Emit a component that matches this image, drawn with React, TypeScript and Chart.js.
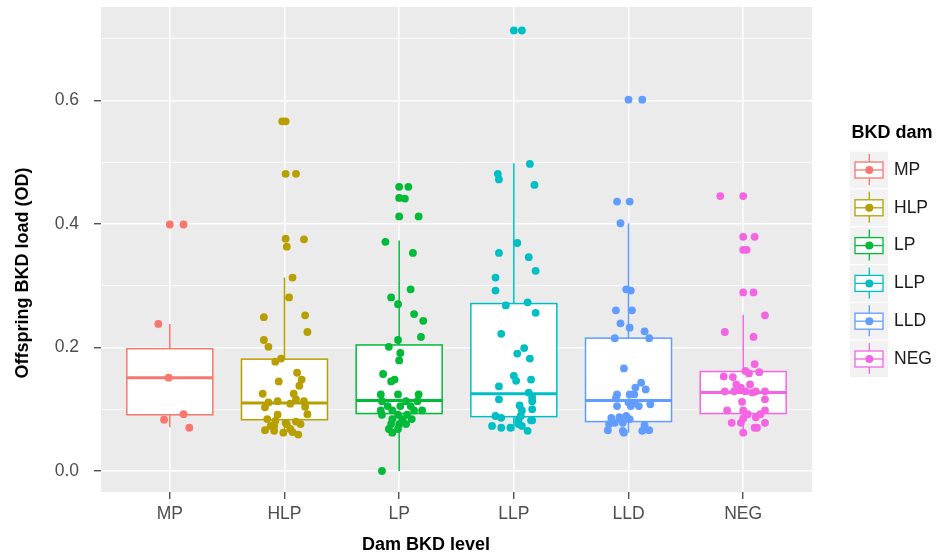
import React, { useEffect, useRef } from "react";
import { Chart, registerables } from "chart.js";
Chart.register(...registerables);

const categories = ["MP", "HLP", "LP", "LLP", "LLD", "NEG"];
const colors = ["#F8766D", "#B79F00", "#00BA38", "#00BFC4", "#619CFF", "#F564E3"];

const yTicks = [0, 0.1, 0.2, 0.3, 0.4, 0.5, 0.6, 0.7];
const yMajorTicks = [0, 0.2, 0.4, 0.6];
const yMajorLabels = ["0.0", "0.2", "0.4", "0.6"];

const boxQ1 = [0.091, 0.083, 0.093, 0.088, 0.080, 0.093];
const boxMedian = [0.151, 0.110, 0.114, 0.125, 0.114, 0.127];
const boxQ3 = [0.198, 0.181, 0.204, 0.271, 0.215, 0.161];
const whiskerLow = [0.071, 0.059, 0.0, 0.065, 0.062, 0.062];
const whiskerHigh = [0.238, 0.313, 0.373, 0.498, 0.401, 0.253];

const mpValues = [0.399, 0.399, 0.238, 0.151, 0.092, 0.083, 0.070];
const mpJitter = [0.0, 0.12, -0.10, -0.01, 0.12, -0.05, 0.17];

const hlpValues = [0.566, 0.566, 0.481, 0.481, 0.376, 0.375, 0.363, 0.313, 0.281, 0.249, 0.252, 0.225, 0.212, 0.201, 0.177, 0.182, 0.159, 0.148, 0.145, 0.138, 0.125, 0.125, 0.116, 0.113, 0.111, 0.109, 0.113, 0.103, 0.104, 0.092, 0.091, 0.084, 0.081, 0.078, 0.080, 0.076, 0.073, 0.076, 0.066, 0.065, 0.062, 0.063, 0.059, 0.073, 0.068];
const hlpJitter = [-0.02, 0.01, 0.01, 0.10, 0.01, 0.17, 0.02, 0.07, 0.04, -0.18, 0.18, 0.20, -0.18, -0.14, -0.08, -0.03, 0.11, 0.15, -0.05, 0.13, -0.19, 0.08, 0.10, -0.06, -0.14, 0.05, 0.17, -0.17, 0.18, 0.20, -0.06, -0.15, -0.08, 0.01, 0.10, 0.14, -0.12, 0.02, -0.17, -0.09, -0.01, 0.07, 0.12, -0.09, 0.05];

const lpValues = [0.460, 0.460, 0.442, 0.441, 0.412, 0.412, 0.371, 0.353, 0.294, 0.281, 0.270, 0.254, 0.243, 0.217, 0.212, 0.201, 0.191, 0.179, 0.157, 0.148, 0.145, 0.124, 0.124, 0.124, 0.113, 0.113, 0.113, 0.105, 0.105, 0.105, 0.098, 0.098, 0.098, 0.098, 0.091, 0.091, 0.091, 0.084, 0.084, 0.084, 0.076, 0.076, 0.076, 0.068, 0.068, 0.062, 0.0];
const lpJitter = [0.0, 0.08, 0.0, 0.05, 0.0, 0.17, -0.12, 0.12, 0.10, -0.07, -0.01, 0.13, 0.21, 0.19, -0.01, -0.09, 0.01, 0.0, -0.14, -0.04, -0.07, -0.16, -0.01, 0.17, -0.15, 0.06, 0.16, -0.10, 0.01, 0.10, -0.16, -0.06, 0.13, 0.20, -0.15, -0.01, 0.07, -0.06, 0.03, 0.11, -0.07, 0.0, 0.06, -0.09, -0.01, -0.06, -0.15];

const llpValues = [0.713, 0.713, 0.497, 0.481, 0.472, 0.463, 0.369, 0.353, 0.346, 0.324, 0.313, 0.292, 0.268, 0.273, 0.256, 0.222, 0.199, 0.190, 0.182, 0.154, 0.146, 0.148, 0.137, 0.127, 0.116, 0.119, 0.113, 0.106, 0.100, 0.098, 0.089, 0.086, 0.089, 0.082, 0.082, 0.073, 0.070, 0.070, 0.076, 0.073, 0.065, 0.082];
const llpJitter = [0.0, 0.07, 0.14, -0.14, -0.13, 0.18, 0.03, -0.13, 0.13, 0.19, -0.16, -0.16, -0.07, 0.12, 0.19, -0.11, 0.09, 0.03, 0.14, 0.0, 0.02, 0.15, -0.13, 0.13, -0.13, 0.16, 0.16, 0.05, 0.16, 0.07, -0.16, -0.11, 0.06, 0.04, 0.15, -0.19, -0.11, -0.03, 0.04, 0.07, 0.12, 0.16];

const lldValues = [0.601, 0.601, 0.436, 0.436, 0.401, 0.294, 0.292, 0.260, 0.260, 0.239, 0.232, 0.226, 0.215, 0.215, 0.166, 0.143, 0.135, 0.132, 0.124, 0.124, 0.124, 0.118, 0.111, 0.110, 0.105, 0.108, 0.105, 0.105, 0.086, 0.087, 0.089, 0.078, 0.078, 0.084, 0.076, 0.074, 0.066, 0.065, 0.066, 0.065, 0.062];
const lldJitter = [0.0, 0.12, -0.10, 0.01, -0.07, -0.02, 0.02, -0.11, 0.03, -0.07, 0.01, 0.14, -0.12, 0.18, -0.04, 0.11, 0.06, 0.15, -0.10, 0.01, 0.05, -0.11, 0.0, 0.05, 0.09, 0.19, -0.10, 0.02, -0.15, -0.08, -0.02, -0.12, -0.05, 0.01, -0.17, 0.14, 0.18, 0.12, -0.18, -0.05, -0.04];

const negValues = [0.445, 0.445, 0.379, 0.379, 0.358, 0.358, 0.289, 0.289, 0.252, 0.225, 0.217, 0.173, 0.162, 0.158, 0.160, 0.153, 0.152, 0.140, 0.140, 0.135, 0.129, 0.129, 0.129, 0.129, 0.129, 0.127, 0.131, 0.116, 0.112, 0.098, 0.098, 0.098, 0.092, 0.087, 0.092, 0.085, 0.078, 0.078, 0.078, 0.070, 0.070, 0.062];
const negJitter = [-0.20, 0.0, 0.0, 0.10, 0.0, 0.03, 0.0, 0.09, 0.19, -0.16, 0.09, 0.10, 0.02, 0.05, 0.14, -0.17, -0.09, -0.06, 0.06, -0.02, -0.16, -0.08, 0.02, 0.11, 0.19, 0.08, -0.05, 0.19, -0.01, -0.14, 0.0, 0.19, 0.04, 0.11, 0.15, 0.0, -0.02, -0.10, 0.19, 0.10, 0.12, 0.0];

const seriesValues = [mpValues, hlpValues, lpValues, llpValues, lldValues, negValues];
const seriesJitter = [mpJitter, hlpJitter, lpJitter, llpJitter, lldJitter, negJitter];

const xTitle = "Dam BKD level";
const yTitle = "Offspring BKD load (OD)";
const legendTitle = "BKD dam";

const FONT = "'Liberation Sans', Arial, Helvetica, sans-serif";

const isMajor = (v: number) => yMajorTicks.some((m) => Math.abs(m - v) < 1e-6);

const ggPlugin = {
  id: "ggBox",
  beforeDraw(chart: any) {
    const { ctx, chartArea } = chart;
    ctx.save();
    ctx.fillStyle = "#EBEBEB";
    ctx.fillRect(chartArea.left, chartArea.top, chartArea.right - chartArea.left, chartArea.bottom - chartArea.top);
    ctx.restore();
  },
  beforeDatasetsDraw(chart: any) {
    const { ctx } = chart;
    const xs = chart.scales.x;
    const ys = chart.scales.y;
    ctx.save();
    categories.forEach((_, i) => {
      const cx = xs.getPixelForValue(i + 1);
      const x0 = xs.getPixelForValue(i + 1 - 0.375);
      const x1 = xs.getPixelForValue(i + 1 + 0.375);
      const yq1 = ys.getPixelForValue(boxQ1[i]);
      const yq3 = ys.getPixelForValue(boxQ3[i]);
      const ymed = ys.getPixelForValue(boxMedian[i]);
      const ylo = ys.getPixelForValue(whiskerLow[i]);
      const yhi = ys.getPixelForValue(whiskerHigh[i]);
      ctx.strokeStyle = colors[i];
      ctx.lineWidth = 1.5;
      ctx.beginPath();
      ctx.moveTo(cx, yq3);
      ctx.lineTo(cx, yhi);
      ctx.moveTo(cx, yq1);
      ctx.lineTo(cx, ylo);
      ctx.stroke();
      ctx.fillStyle = "#FFFFFF";
      ctx.fillRect(x0, yq3, x1 - x0, yq1 - yq3);
      ctx.strokeRect(x0, yq3, x1 - x0, yq1 - yq3);
      ctx.lineWidth = 3;
      ctx.beginPath();
      ctx.moveTo(x0, ymed);
      ctx.lineTo(x1, ymed);
      ctx.stroke();
    });
    ctx.restore();
  },
  afterDraw(chart: any) {
    const { ctx } = chart;
    ctx.save();
    ctx.fillStyle = "#000000";
    ctx.font = `bold 18px ${FONT}`;
    ctx.textAlign = "center";
    ctx.textBaseline = "alphabetic";
    ctx.fillText(xTitle, 426, 549.5);
    ctx.save();
    ctx.translate(27.5, 273);
    ctx.rotate(-Math.PI / 2);
    ctx.fillText(yTitle, 0, 0);
    ctx.restore();

    ctx.textAlign = "left";
    ctx.fillText(legendTitle, 851.5, 138);
    categories.forEach((c, i) => {
      const top = 151.7 + i * 37.8;
      const cy = top + 18.3;
      const cx = 869.3;
      ctx.fillStyle = "#F2F2F2";
      ctx.fillRect(850, top, 38, 36.6);
      ctx.strokeStyle = colors[i];
      ctx.lineWidth = 1.3;
      ctx.beginPath();
      ctx.moveTo(cx, cy - 16);
      ctx.lineTo(cx, cy - 8);
      ctx.moveTo(cx, cy + 8);
      ctx.lineTo(cx, cy + 15);
      ctx.stroke();
      ctx.fillStyle = "#FFFFFF";
      ctx.fillRect(855, cy - 8, 28, 16);
      ctx.strokeRect(855, cy - 8, 28, 16);
      ctx.beginPath();
      ctx.moveTo(855, cy);
      ctx.lineTo(883, cy);
      ctx.stroke();
      ctx.fillStyle = colors[i];
      ctx.beginPath();
      ctx.arc(cx, cy, 4, 0, Math.PI * 2);
      ctx.fill();
      ctx.fillStyle = "#1a1a1a";
      ctx.font = `17.5px ${FONT}`;
      ctx.textBaseline = "middle";
      ctx.fillText(c, 894, cy);
      ctx.font = `bold 18px ${FONT}`;
      ctx.textBaseline = "alphabetic";
    });
    ctx.restore();
  },
};

export default function App() {
  const ref = useRef<HTMLCanvasElement | null>(null);
  useEffect(() => {
    if (!ref.current) return;
    Chart.defaults.font.family = FONT;
    const chart = new Chart(ref.current, {
      type: "scatter",
      data: {
        datasets: categories.map((c, i) => ({
          label: c,
          data: seriesValues[i].map((v, j) => ({ x: i + 1 + seriesJitter[i][j], y: v })),
          backgroundColor: colors[i],
          borderWidth: 0,
          pointRadius: 3.9,
          pointHoverRadius: 3.9,
        })),
      },
      options: {
        responsive: false,
        devicePixelRatio: 1,
        animation: false,
        events: [],
        layout: { padding: { left: 0, right: 128, top: 7, bottom: 0 } },
        plugins: { legend: { display: false }, tooltip: { enabled: false } },
        scales: {
          x: {
            type: "linear",
            min: 0.4,
            max: 6.6,
            afterBuildTicks: (s: any) => {
              s.ticks = categories.map((_, i) => ({ value: i + 1 }));
            },
            afterFit: (s: any) => {
              s.height = 64;
              s.paddingLeft = 0;
              s.paddingRight = 0;
            },
            ticks: {
              callback: (v: any) => categories[Math.round(Number(v)) - 1] ?? "",
              font: { size: 17.5, family: FONT },
              color: "#4d4d4d",
              padding: 5,
              maxRotation: 0,
              autoSkip: false,
            },
            grid: {
              color: "#FFFFFF",
              lineWidth: 1.5,
              tickColor: "#333333",
              tickLength: 7,
              tickWidth: 1.2,
            },
            border: { display: false },
          },
          y: {
            type: "linear",
            min: -0.034,
            max: 0.751,
            afterBuildTicks: (s: any) => {
              s.ticks = yTicks.map((v) => ({ value: v }));
            },
            afterFit: (s: any) => {
              s.width = 101;
              s.paddingTop = 0;
              s.paddingBottom = 0;
            },
            ticks: {
              callback: (v: any) => {
                const k = yMajorTicks.findIndex((m) => Math.abs(m - Number(v)) < 1e-6);
                return k >= 0 ? yMajorLabels[k] : "";
              },
              font: { size: 17.5, family: FONT },
              color: "#4d4d4d",
              padding: 15,
              autoSkip: false,
            },
            grid: {
              color: "#FFFFFF",
              lineWidth: (ctx: any) => (ctx.tick && isMajor(ctx.tick.value) ? 1.5 : 0.75),
              tickColor: (ctx: any) => (ctx.tick && isMajor(ctx.tick.value) ? "#333333" : "rgba(0,0,0,0)"),
              tickLength: 7,
              tickWidth: 1.2,
            },
            border: { display: false },
          },
        },
      },
      plugins: [ggPlugin],
    });
    return () => chart.destroy();
  }, []);
  return (
    <div style={{ position: "fixed", left: 0, top: 0, width: 940, height: 556, background: "#fff" }}>
      <canvas ref={ref} width={940} height={556} style={{ display: "block", width: 940, height: 556 }} />
    </div>
  );
}
